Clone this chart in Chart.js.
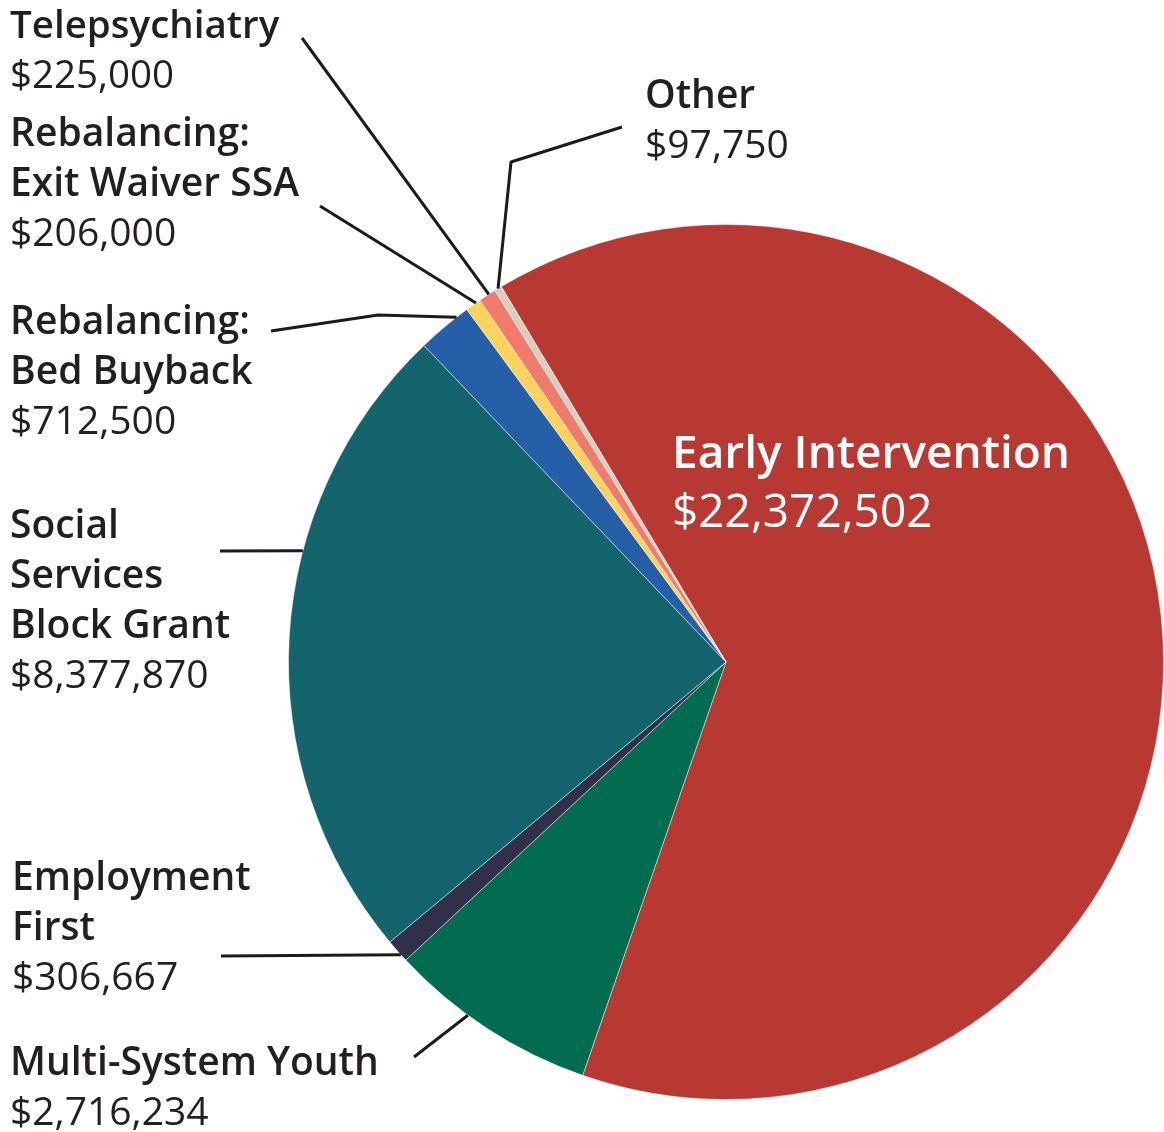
<!DOCTYPE html>
<html>
<head>
<meta charset="utf-8">
<script src="https://cdn.jsdelivr.net/npm/chart.js@4/dist/chart.umd.min.js"></script>
<style>
  html, body { margin: 0; padding: 0; background: #fff; }
  #wrap { width: 1164px; height: 1132px; position: relative; }
</style>
</head>
<body>
<div id="wrap"><canvas id="pie"></canvas></div>
<script>
// Data
var categories = ["Early Intervention", "Multi-System Youth", "Employment First",
  "Social Services Block Grant", "Rebalancing: Bed Buyback",
  "Rebalancing: Exit Waiver SSA", "Telepsychiatry", "Other"];
var amounts = [22372502, 2716234, 306667, 8377870, 712500, 206000, 225000, 97750];
var nameLines = [["Early Intervention"], ["Multi-System Youth"], ["Employment", "First"],
  ["Social", "Services", "Block Grant"], ["Rebalancing:", "Bed Buyback"],
  ["Rebalancing:", "Exit Waiver SSA"], ["Telepsychiatry"], ["Other"]];
var sliceColors = ["#B83832", "#026C50", "#31304A", "#14646E", "#245FA8",
  "#FDD35E", "#F07B6C", "#DDCDBD"];

// label placement (x, first baseline, line pitch, size) and leader paths
var labelPos = [
  { x: 672, y: 468, pitch: 59, size: 46, color: "#fff" },
  { x: 10, y: 1075, pitch: 50, size: 39 },
  { x: 12, y: 890, pitch: 50, size: 39 },
  { x: 10, y: 538, pitch: 50, size: 39 },
  { x: 10, y: 334, pitch: 50, size: 39 },
  { x: 10, y: 146, pitch: 50, size: 39 },
  { x: 10, y: 38, pitch: 50, size: 38.5 },
  { x: 645, y: 108, pitch: 50, size: 39 }
];
var leaders = [
  null,
  { pts: [[414, 1057]], frac: 0.61 },
  { pts: [[221, 956]], frac: 0.3 },
  { pts: [[220, 551]], frac: 0.633 },
  { pts: [[271, 331], [378, 315]], frac: 0.77 },
  { pts: [[320, 206]], frac: 0.7 },
  { pts: [[302, 38]], frac: 0.6 },
  { pts: [[622, 127], [511, 162]], frac: 0.5 }
];

var labelPlugin = {
  id: "sliceLabels",
  afterDatasetsDraw: function (chart) {
    var ctx = chart.ctx;
    var arcs = chart.getDatasetMeta(0).data;
    ctx.save();
    // leader lines
    ctx.strokeStyle = "#1b1b1b";
    ctx.lineWidth = 3;
    ctx.lineJoin = "round";
    leaders.forEach(function (ld, i) {
      if (!ld) return;
      var a = arcs[i];
      var ang = a.startAngle + (a.endAngle - a.startAngle) * ld.frac;
      var ex = a.x + Math.cos(ang) * a.outerRadius;
      var ey = a.y + Math.sin(ang) * a.outerRadius;
      ctx.beginPath();
      ctx.moveTo(ld.pts[0][0], ld.pts[0][1]);
      for (var k = 1; k < ld.pts.length; k++) ctx.lineTo(ld.pts[k][0], ld.pts[k][1]);
      ctx.lineTo(ex, ey);
      ctx.stroke();
    });
    // text
    ctx.textAlign = "left";
    ctx.textBaseline = "alphabetic";
    nameLines.forEach(function (lines, i) {
      var p = labelPos[i];
      ctx.fillStyle = p.color || "#231f20";
      var y = p.y;
      ctx.font = "600 " + p.size + "px 'Open Sans'";
      lines.forEach(function (t) {
        ctx.fillText(t, p.x, y);
        y += p.pitch;
      });
      ctx.font = "400 " + p.size + "px 'Open Sans'";
      ctx.fillText("$" + amounts[i].toLocaleString("en-US"), p.x, y);
    });
    ctx.restore();
  }
};

var ctx = document.getElementById("pie").getContext("2d");
var pieChart = new Chart(ctx, {
  type: "pie",
  data: {
    labels: categories,
    datasets: [{
      data: amounts,
      backgroundColor: sliceColors,
      borderColor: "rgba(255,255,255,0.45)",
      borderWidth: 1
    }]
  },
  options: {
    responsive: true,
    maintainAspectRatio: false,
    animation: false,
    rotation: -30.9,
    layout: { padding: { left: 288, right: 0, top: 224, bottom: 32 } },
    plugins: {
      legend: { display: false },
      tooltip: { enabled: false }
    }
  },
  plugins: [labelPlugin]
});
</script>
</body>
</html>
